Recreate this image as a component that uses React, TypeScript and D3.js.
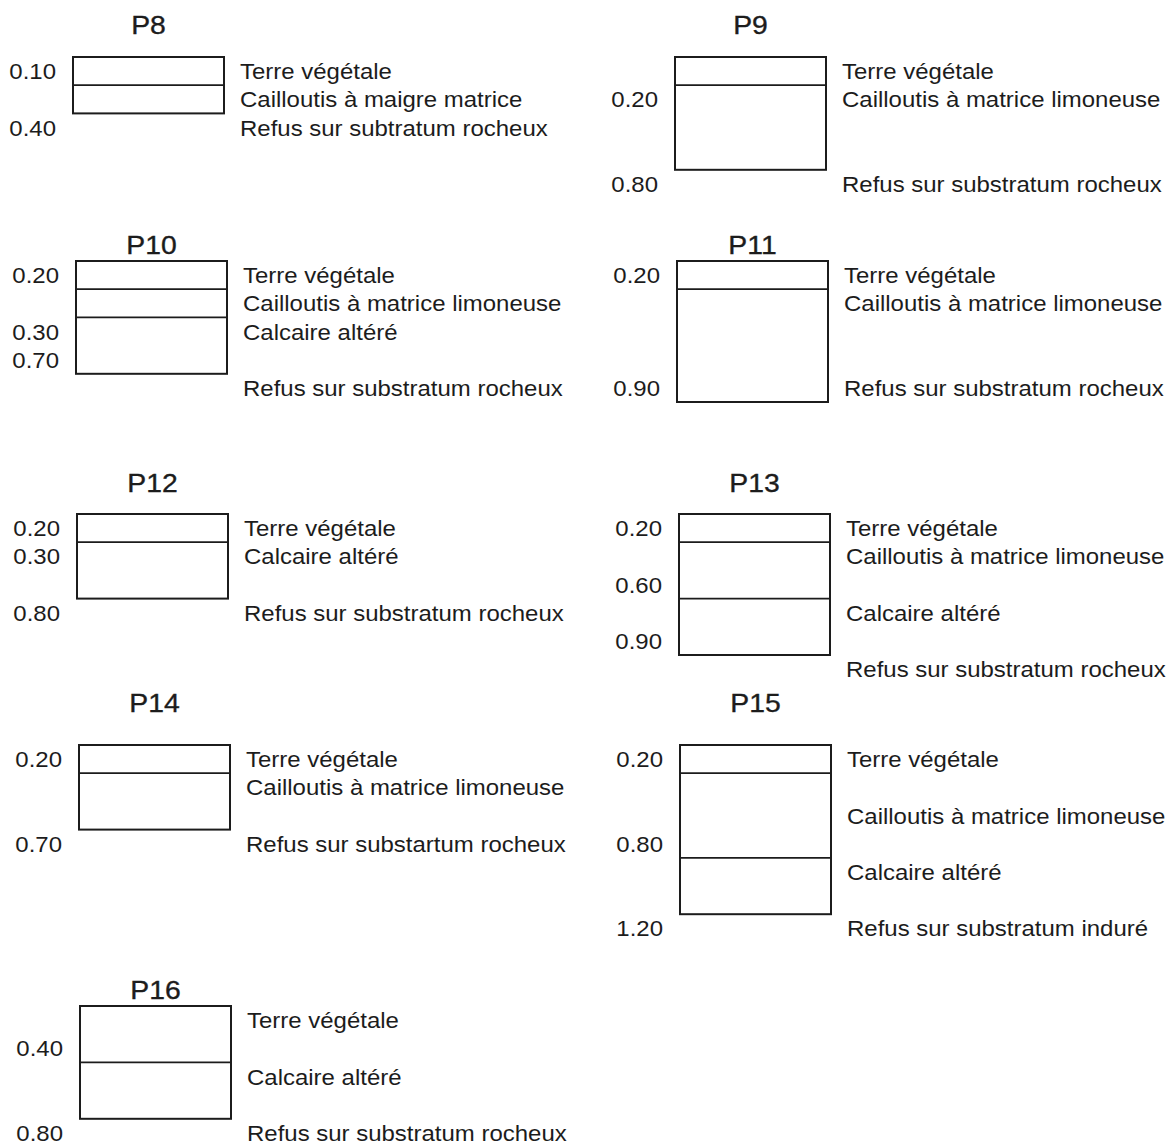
import React, { useRef, useEffect } from 'react';
import * as d3 from 'd3';

// Soil profiles (sondages) – one entry per pit
const profileNames = ['P8', 'P9', 'P10', 'P11', 'P12', 'P13', 'P14', 'P15', 'P16'];

// number of grid rows covered by each log box
const boxRows = [2, 4, 4, 5, 3, 5, 3, 6, 4];

// row boundaries where a layer change is drawn inside the box
const dividerRows = [[1], [1], [1, 2], [1], [1], [1, 3], [1], [1, 4], [2]];

// depth labels: [row, text]
const depthLabels: [number, string][][] = [
  [[0, '0.10'], [2, '0.40']],
  [[1, '0.20'], [4, '0.80']],
  [[0, '0.20'], [2, '0.30'], [3, '0.70']],
  [[0, '0.20'], [4, '0.90']],
  [[0, '0.20'], [1, '0.30'], [3, '0.80']],
  [[0, '0.20'], [2, '0.60'], [4, '0.90']],
  [[0, '0.20'], [3, '0.70']],
  [[0, '0.20'], [3, '0.80'], [6, '1.20']],
  [[1, '0.40'], [4, '0.80']],
];

// layer descriptions: [row, text]
const layerLabels: [number, string][][] = [
  [[0, 'Terre végétale'], [1, 'Cailloutis à maigre matrice'], [2, 'Refus sur subtratum rocheux']],
  [[0, 'Terre végétale'], [1, 'Cailloutis à matrice limoneuse'], [4, 'Refus sur substratum rocheux']],
  [[0, 'Terre végétale'], [1, 'Cailloutis à matrice limoneuse'], [2, 'Calcaire altéré'], [4, 'Refus sur substratum rocheux']],
  [[0, 'Terre végétale'], [1, 'Cailloutis à matrice limoneuse'], [4, 'Refus sur substratum rocheux']],
  [[0, 'Terre végétale'], [1, 'Calcaire altéré'], [3, 'Refus sur substratum rocheux']],
  [[0, 'Terre végétale'], [1, 'Cailloutis à matrice limoneuse'], [3, 'Calcaire altéré'], [5, 'Refus sur substratum rocheux']],
  [[0, 'Terre végétale'], [1, 'Cailloutis à matrice limoneuse'], [3, 'Refus sur substartum rocheux']],
  [[0, 'Terre végétale'], [2, 'Cailloutis à matrice limoneuse'], [4, 'Calcaire altéré'], [6, 'Refus sur substratum induré']],
  [[0, 'Terre végétale'], [2, 'Calcaire altéré'], [4, 'Refus sur substratum rocheux']],
];

// page layout (scan is slightly skewed, so each box gets its own left edge)
const boxLeft = [73, 675, 76, 677, 77, 679, 79, 680, 80];
const boxTop = [57, 57, 261, 261, 514, 514, 745, 745, 1006];
const titleY = [25, 25, 245, 245, 483, 483, 703, 703, 990];

const WIDTH = 1166;
const HEIGHT = 1146;
const ROW = 28.2;
const BOX_W = 151;
const INK = '#1c1c1c';
const FONT = "'Liberation Sans', Arial, sans-serif";
const SX = 1.09; // scan is stretched a little horizontally

const App: React.FC = () => {
  const svgRef = useRef<SVGSVGElement>(null);

  useEffect(() => {
    if (!svgRef.current) return;
    const root = d3.select(svgRef.current);
    root.selectAll('*').remove();

    const svg = root.attr('width', WIDTH).attr('height', HEIGHT);
    svg.append('rect').attr('width', WIDTH).attr('height', HEIGHT).attr('fill', '#fff');

    profileNames.forEach((name, i) => {
      const n = boxRows[i];
      const x0 = boxLeft[i];
      const y = d3.scaleLinear().domain([0, 1]).range([boxTop[i], boxTop[i] + ROW]);
      const x = d3.scaleLinear().domain([0, 1]).range([x0, x0 + BOX_W]);
      const rowMid = (r: number) => y(r + 0.5) + 0.5;

      const g = svg.append('g').attr('class', `profile-${name}`);

      // title
      g.append('text')
        .attr('transform', `translate(${x(0.5)},${titleY[i]}) scale(${SX},1)`)
        .attr('text-anchor', 'middle')
        .attr('dominant-baseline', 'central')
        .attr('font-family', FONT)
        .attr('font-size', 26)
        .attr('fill', INK)
        .attr('stroke', INK)
        .attr('stroke-width', 0.35)
        .text(name);

      // box outline
      g.append('rect')
        .attr('x', x(0))
        .attr('y', y(0))
        .attr('width', x(1) - x(0))
        .attr('height', y(n) - y(0))
        .attr('fill', 'none')
        .attr('stroke', INK)
        .attr('stroke-width', 2);

      // layer boundaries
      g.selectAll('line.div')
        .data(dividerRows[i])
        .enter()
        .append('line')
        .attr('class', 'div')
        .attr('x1', x(0))
        .attr('x2', x(1))
        .attr('y1', (d) => y(d))
        .attr('y2', (d) => y(d))
        .attr('stroke', INK)
        .attr('stroke-width', 1.8);

      // depths
      g.selectAll('text.depth')
        .data(depthLabels[i])
        .enter()
        .append('text')
        .attr('class', 'depth')
        .attr('transform', (d) => `translate(${x(0) - 17},${rowMid(d[0])}) scale(${SX},1)`)
        .attr('text-anchor', 'end')
        .attr('dominant-baseline', 'central')
        .attr('font-family', FONT)
        .attr('font-size', 22)
        .attr('fill', INK)
        .text((d) => d[1]);

      // descriptions
      g.selectAll('text.layer')
        .data(layerLabels[i])
        .enter()
        .append('text')
        .attr('class', 'layer')
        .attr('transform', (d) => `translate(${x(0) + 167},${rowMid(d[0])}) scale(${SX},1)`)
        .attr('dominant-baseline', 'central')
        .attr('font-family', FONT)
        .attr('font-size', 22)
        .attr('fill', INK)
        .text((d) => d[1]);
    });
  }, []);

  return (
    <div style={{ position: 'absolute', left: 0, top: 0, background: '#fff' }}>
      <svg ref={svgRef} style={{ display: 'block' }}></svg>
    </div>
  );
};

export default App;
